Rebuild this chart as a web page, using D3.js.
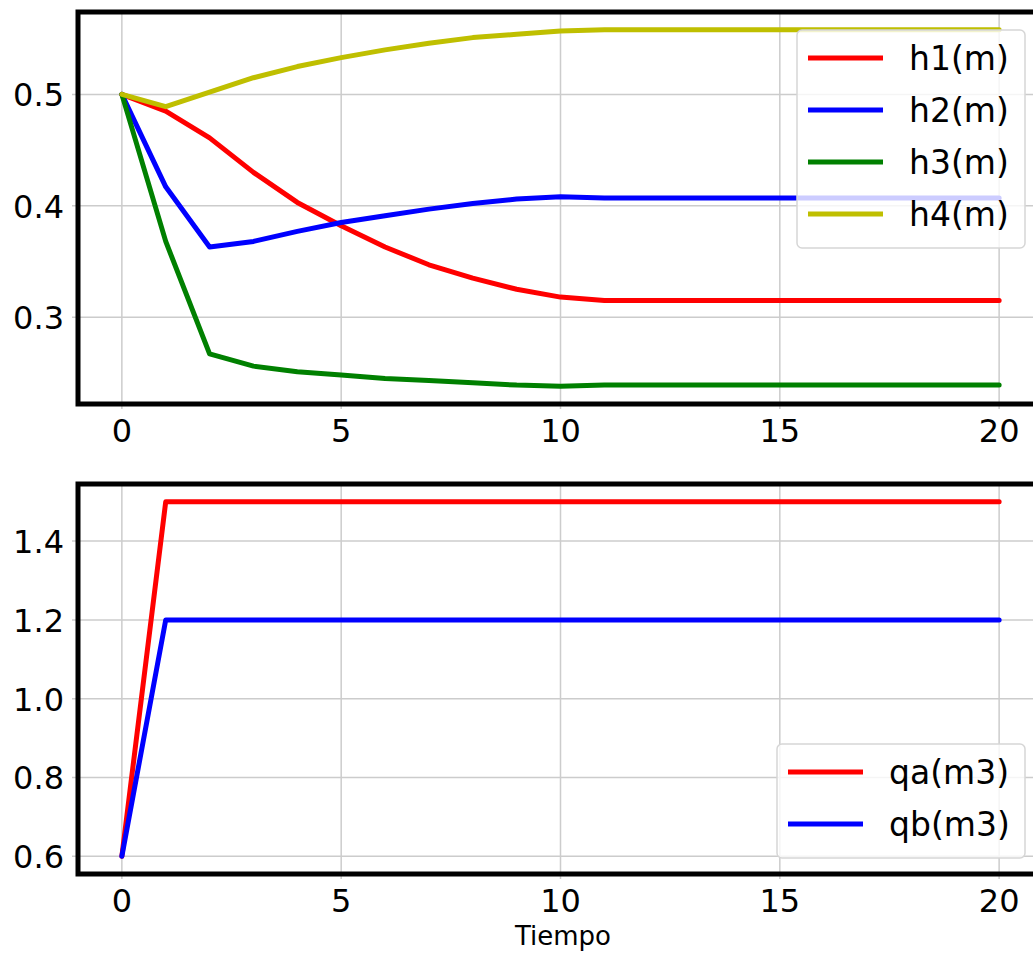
<!DOCTYPE html>
<html>
<head>
<meta charset="utf-8">
<script src="https://cdn.jsdelivr.net/npm/d3@7"></script>
<style>
  body { margin: 0; background: #fff; }
  text { font-family: "DejaVu Sans", sans-serif; fill: #000; }
</style>
</head>
<body>
<svg width="1033" height="954"></svg>
<script>
// data
var tiempo = [0,1,2,3,4,5,6,7,8,9,10,11,12,13,14,15,16,17,18,19,20];
var h1 = [0.500,0.485,0.461,0.430,0.403,0.382,0.363,0.347,0.335,0.325,0.318,0.315,0.315,0.315,0.315,0.315,0.315,0.315,0.315,0.315,0.315];
var h2 = [0.500,0.417,0.363,0.368,0.377,0.385,0.391,0.397,0.402,0.406,0.408,0.407,0.407,0.407,0.407,0.407,0.407,0.407,0.407,0.407,0.407];
var h3 = [0.500,0.368,0.267,0.256,0.251,0.248,0.245,0.243,0.241,0.239,0.238,0.239,0.239,0.239,0.239,0.239,0.239,0.239,0.239,0.239,0.239];
var h4 = [0.500,0.489,0.502,0.515,0.525,0.533,0.540,0.546,0.551,0.554,0.557,0.558,0.558,0.558,0.558,0.558,0.558,0.558,0.558,0.558,0.558];
var qa = [0.6,1.5,1.5,1.5,1.5,1.5,1.5,1.5,1.5,1.5,1.5,1.5,1.5,1.5,1.5,1.5,1.5,1.5,1.5,1.5,1.5];
var qb = [0.6,1.2,1.2,1.2,1.2,1.2,1.2,1.2,1.2,1.2,1.2,1.2,1.2,1.2,1.2,1.2,1.2,1.2,1.2,1.2,1.2];

var xTicks = [0,5,10,15,20];
var yTicksTop = [0.3,0.4,0.5];
var yTicksBot = [0.6,0.8,1.0,1.2,1.4];

var topSeries = [
  {name:"h1(m)", values:h1, color:"#ff0000"},
  {name:"h2(m)", values:h2, color:"#0000ff"},
  {name:"h3(m)", values:h3, color:"#008000"},
  {name:"h4(m)", values:h4, color:"#bfbf00"}
];
var botSeries = [
  {name:"qa(m3)", values:qa, color:"#ff0000"},
  {name:"qb(m3)", values:qb, color:"#0000ff"}
];

var svg = d3.select("svg");
var left = 78, right = 1043;

function padded(arrs) {
  var all = [].concat.apply([], arrs);
  var e = d3.extent(all), m = (e[1]-e[0])*0.05;
  return [e[0]-m, e[1]+m];
}

function panel(series, yTicks, top, bottom, yFmt, legendBox) {
  var g = svg.append("g");
  var xe = d3.extent(tiempo), xm = (xe[1]-xe[0])*0.05;
  var x = d3.scaleLinear().domain([xe[0]-xm, xe[1]+xm]).range([left, right]);
  var y = d3.scaleLinear().domain(padded(series.map(function(s){return s.values;}))).range([bottom, top]);

  // grid
  g.selectAll(".gx").data(xTicks).enter().append("line")
    .attr("x1", function(d){return x(d);}).attr("x2", function(d){return x(d);})
    .attr("y1", top).attr("y2", bottom + 5)
    .attr("stroke", "#cccccc").attr("stroke-width", 1.5);
  g.selectAll(".gy").data(yTicks).enter().append("line")
    .attr("y1", function(d){return y(d);}).attr("y2", function(d){return y(d);})
    .attr("x1", left - 6).attr("x2", right)
    .attr("stroke", "#cccccc").attr("stroke-width", 1.5);

  // lines
  var line = d3.line().x(function(d,i){return x(tiempo[i]);}).y(function(d){return y(d);});
  series.forEach(function(s){
    g.append("path").datum(s.values).attr("d", line)
      .attr("fill", "none").attr("stroke", s.color).attr("stroke-width", 5)
      .attr("stroke-linejoin", "round").attr("stroke-linecap", "round");
  });

  // spines
  g.append("rect").attr("x", left).attr("y", top)
    .attr("width", right - left).attr("height", bottom - top)
    .attr("fill", "none").attr("stroke", "#000").attr("stroke-width", 5);

  // tick labels
  g.selectAll(".tx").data(xTicks).enter().append("text")
    .attr("x", function(d){return x(d);}).attr("y", bottom + 38)
    .attr("text-anchor", "middle").style("font-size", "32px")
    .text(function(d){return d;});
  g.selectAll(".ty").data(yTicks).enter().append("text")
    .attr("x", 64).attr("y", function(d){return y(d) + 12;})
    .attr("text-anchor", "end").style("font-size", "32px")
    .text(yFmt);

  // legend
  var lg = g.append("g");
  lg.append("rect").attr("x", legendBox.x).attr("y", legendBox.y)
    .attr("width", legendBox.w).attr("height", 52*series.length + 10)
    .attr("rx", 5).attr("fill", "#fff").attr("fill-opacity", 0.8)
    .attr("stroke", "#d6d6d6").attr("stroke-width", 1.5);
  series.forEach(function(s, i){
    var yy = legendBox.y + 28 + i*52;
    lg.append("line").attr("x1", legendBox.x + 11).attr("x2", legendBox.x + 86)
      .attr("y1", yy).attr("y2", yy)
      .attr("stroke", s.color).attr("stroke-width", 5);
    lg.append("text").attr("x", legendBox.x + 112).attr("y", yy + 12)
      .style("font-size", "33px").text(s.name);
  });
}

panel(topSeries, yTicksTop, 12, 404, d3.format(".1f"), {x:797, y:30, w:228});
panel(botSeries, yTicksBot, 484, 874, d3.format(".1f"), {x:777, y:744, w:248});

svg.append("text").attr("x", 563).attr("y", 945)
  .attr("text-anchor", "middle").style("font-size", "26px").text("Tiempo");
</script>
</body>
</html>
